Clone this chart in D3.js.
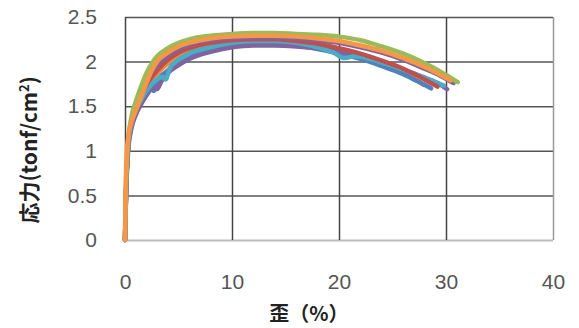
<!DOCTYPE html>
<html>
<head>
<meta charset="utf-8">
<script src="https://cdn.jsdelivr.net/npm/d3@7"></script>
<style>
  html, body { margin: 0; padding: 0; background: #fff; }
  svg { display: block; }
</style>
</head>
<body>
<svg id="chart" width="579" height="328"></svg>
<script>
// ---- data (strain %, stress tonf/cm2) ----
const xTicks = [0, 10, 20, 30, 40];
const yTicks = [0, 0.5, 1, 1.5, 2, 2.5];
const xTickLabels = ["0", "10", "20", "30", "40"];
const yTickLabels = ["0", "0.5", "1", "1.5", "2", "2.5"];
const xTitle = "歪（%）";
const yTitleMain = "応力(tonf/cm";
const yTitleSup = "2";
const yTitleEnd = ")";

const orange2 = [[0,0],[0.1,0.55],[0.3,1.05],[0.6,1.3],[1,1.45],[1.5,1.58],[2,1.7],[3,1.86],[4,1.98],[5,2.06],[6,2.12],[8,2.19],[10,2.22],[12,2.23],[14,2.23],[16,2.21],[18,2.17],[20,2.12],[22,2.05],[24,1.97],[26,1.87],[27,1.81],[27.9,1.74]];
const blue = [[0,0],[0.1,0.55],[0.3,1.05],[0.6,1.28],[1,1.43],[1.5,1.55],[2,1.65],[2.5,1.7],[2.7,1.67],[3,1.77],[4,1.9],[5,1.99],[6,2.05],[8,2.13],[10,2.18],[12,2.2],[14,2.2],[16,2.18],[18,2.14],[20,2.09],[22,2.03],[24,1.95],[26,1.86],[27.5,1.77],[28.6,1.7]];
const purple = [[0,0],[0.1,0.5],[0.3,1.0],[0.6,1.25],[1,1.4],[1.5,1.52],[2,1.62],[2.8,1.72],[3,1.69],[3.4,1.78],[4,1.87],[5,1.96],[6,2.03],[8,2.11],[10,2.16],[12,2.18],[14,2.18],[16,2.17],[18,2.15],[20,2.11],[22,2.06],[24,1.99],[26,1.91],[28,1.82],[29.5,1.74],[30.1,1.69]];
const aqua = [[0,0],[0.1,0.55],[0.3,1.05],[0.6,1.3],[1,1.45],[1.5,1.57],[2,1.67],[3,1.8],[3.5,1.83],[3.8,1.8],[4.2,1.93],[5,2.02],[6,2.09],[8,2.16],[10,2.21],[12,2.23],[14,2.23],[16,2.21],[18,2.16],[19.5,2.1],[20.5,2.04],[21.5,2.06],[24,1.99],[26,1.91],[28,1.82],[29.8,1.73]];
const red = [[0,0],[0.1,0.55],[0.3,1.08],[0.6,1.32],[1,1.48],[1.5,1.62],[2,1.74],[3,1.9],[4,2.02],[5,2.1],[6,2.15],[8,2.21],[10,2.24],[12,2.25],[14,2.25],[16,2.23],[18,2.2],[20,2.15],[22,2.09],[24,2.01],[26,1.92],[28,1.8],[29.2,1.72]];
const purple2 = [[0,0],[0.1,0.55],[0.3,1.08],[0.6,1.33],[1,1.5],[1.5,1.65],[2,1.78],[3,1.96],[4,2.07],[5,2.14],[6,2.19],[8,2.24],[10,2.26],[12,2.27],[14,2.27],[16,2.26],[18,2.24],[20,2.21],[22,2.16],[24,2.1],[26,2.02],[28,1.92],[29.5,1.84],[30.7,1.76]];
const green = [[0,0],[0.1,0.6],[0.3,1.1],[0.6,1.38],[1,1.55],[1.5,1.72],[2,1.87],[2.5,1.98],[3,2.06],[4,2.15],[5,2.21],[6,2.25],[8,2.29],[10,2.31],[12,2.32],[14,2.32],[16,2.31],[18,2.3],[20,2.28],[22,2.24],[24,2.17],[26,2.09],[27,2.04],[28,1.98],[29,1.92],[30,1.85],[31.1,1.77]];
const orange = [[0,0],[0.05,0.5],[0.15,0.95],[0.3,1.15],[0.6,1.32],[1,1.45],[1.5,1.6],[2,1.76],[2.5,1.9],[3,2.0],[4,2.1],[5,2.17],[6,2.21],[8,2.26],[10,2.28],[12,2.29],[14,2.29],[16,2.28],[18,2.26],[20,2.23],[22,2.18],[24,2.12],[26,2.04],[28,1.94],[29.5,1.85],[30.4,1.79]];

const seriesList = [orange2, blue, purple, aqua, red, purple2, green, orange];
const seriesColors = ["#F08A3A", "#4F81BD", "#8064A2", "#4BACC6", "#C0504D", "#8064A2", "#9BBB59", "#F79646"];

// ---- layout ----
const svg = d3.select("#chart");
const x = d3.scaleLinear().domain([0, 40]).range([125, 553]);
const y = d3.scaleLinear().domain([0, 2.5]).range([240, 17]);

// gridlines
svg.append("g")
  .attr("transform", "translate(125,0)")
  .call(d3.axisLeft(y).tickValues(yTicks).tickSize(-(553 - 125)).tickFormat(""))
  .call(g => g.select(".domain").remove())
  .call(g => g.selectAll("line").attr("stroke", d => d === 0 ? "#bbb" : "#555").attr("stroke-width", d => d === 0 ? 2 : 1.5));

svg.append("g")
  .attr("transform", "translate(0,240)")
  .call(d3.axisBottom(x).tickValues(xTicks).tickSize(-(240 - 17)).tickFormat(""))
  .call(g => g.select(".domain").remove())
  .call(g => g.selectAll("line").attr("stroke", d => d === 40 ? "#999" : "#444").attr("stroke-width", 1.5));

// tick labels
svg.append("g")
  .attr("transform", "translate(97,0)")
  .call(d3.axisLeft(y).tickValues(yTicks).tickSize(0).tickPadding(0).tickFormat((d, i) => yTickLabels[i]))
  .call(g => g.select(".domain").remove())
  .call(g => g.selectAll("text")
    .attr("font-family", "'Liberation Sans', Arial, sans-serif")
    .attr("font-size", 21).attr("fill", "#555"));

svg.append("g")
  .attr("transform", "translate(0,274)")
  .call(d3.axisBottom(x).tickValues(xTicks).tickSize(0).tickPadding(0).tickFormat((d, i) => xTickLabels[i]))
  .call(g => g.select(".domain").remove())
  .call(g => g.selectAll("text")
    .attr("font-family", "'Liberation Sans', Arial, sans-serif")
    .attr("font-size", 21).attr("fill", "#555"));

// series
const line = d3.line().x(d => x(d[0])).y(d => y(d[1])).curve(d3.curveMonotoneX);
svg.append("g").selectAll("path")
  .data(seriesList)
  .join("path")
  .attr("d", line)
  .attr("fill", "none")
  .attr("stroke", (d, i) => seriesColors[i])
  .attr("stroke-width", 4.5)
  .attr("stroke-linejoin", "round")
  .attr("stroke-linecap", "round");

// axis titles
svg.append("text")
  .attr("x", 309).attr("y", 321)
  .attr("text-anchor", "middle")
  .attr("font-family", "'Noto Sans CJK JP', sans-serif")
  .attr("font-weight", "bold")
  .attr("font-size", 20)
  .attr("fill", "#222")
  .text(xTitle);

const yt = svg.append("text")
  .attr("transform", "translate(37,150) rotate(-90)")
  .attr("text-anchor", "middle")
  .attr("font-family", "'Noto Sans CJK JP', sans-serif")
  .attr("font-weight", "bold")
  .attr("font-size", 21)
  .attr("fill", "#222");
yt.append("tspan").text(yTitleMain);
yt.append("tspan").attr("font-size", 13).attr("dy", -8).text(yTitleSup);
yt.append("tspan").attr("dy", 8).text(yTitleEnd);
</script>
</body>
</html>
